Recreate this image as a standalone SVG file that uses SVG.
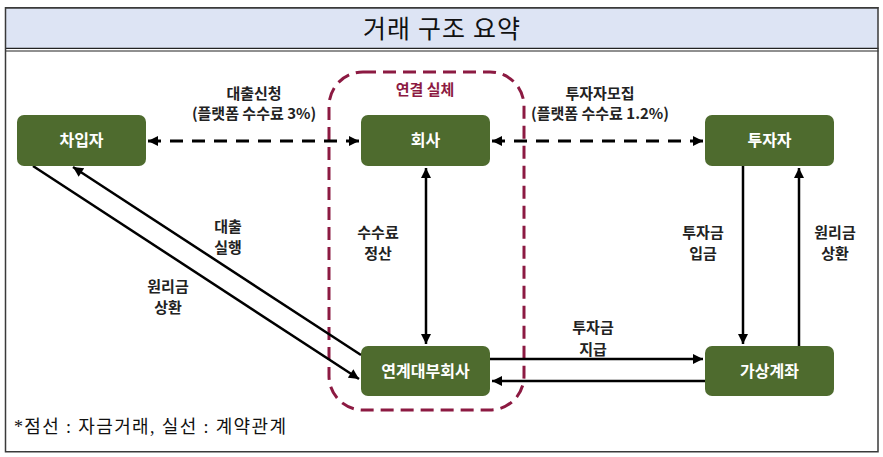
<svg xmlns="http://www.w3.org/2000/svg" width="883" height="457" viewBox="0 0 883 457">
<defs>
<style>
.node rect{fill:#4e6b2e}
.node text{fill:#ffffff;font-family:"Noto Sans CJK KR","Noto Sans",sans-serif;font-weight:700;font-size:16px;text-anchor:middle}
.lbl{fill:#222222;font-family:"Noto Sans CJK KR","Noto Sans",sans-serif;font-weight:700;font-size:15px;text-anchor:middle}
.solid{stroke:#000;stroke-width:2.5;fill:none}
.dash{stroke:#000;stroke-width:3;fill:none;stroke-dasharray:13 9}
</style>
<marker id="ah" viewBox="0 0 10 10" refX="10" refY="5" markerWidth="11" markerHeight="10" markerUnits="userSpaceOnUse" orient="auto-start-reverse">
<path d="M0,0 L10,5 L0,10 z" fill="#000"/>
</marker>
</defs>
<rect x="0" y="0" width="883" height="457" fill="#ffffff"/>
<!-- frame -->
<rect x="5.5" y="8" width="872.5" height="40" fill="#dde4f4"/>
<line x1="5" y1="7.75" x2="878.5" y2="7.75" stroke="#3a3a3a" stroke-width="1.5"/>
<line x1="5" y1="48.3" x2="878.5" y2="48.3" stroke="#222" stroke-width="1.2"/>
<line x1="5" y1="51" x2="878.5" y2="51" stroke="#222" stroke-width="1.2"/>
<rect x="5.5" y="7.75" width="872.5" height="444" fill="none" stroke="#3a3a3a" stroke-width="1.5"/>
<text x="441.5" y="38" font-family="'Liberation Serif','Noto Sans CJK KR',serif" font-size="25" text-anchor="middle" fill="#111" textLength="157" lengthAdjust="spacing">거래 구조 요약</text>
<!-- group boundary -->
<rect x="329" y="72" width="195" height="338" rx="34" ry="34" fill="none" stroke="#8c1a42" stroke-width="3" stroke-dasharray="13 7"/>
<text x="425" y="95" font-family="'Noto Sans CJK KR',sans-serif" font-weight="700" font-size="15" text-anchor="middle" fill="#8c1a42">연결 실체</text>
<!-- connectors -->
<g id="connectors">
<line class="dash" x1="148" y1="141" x2="359" y2="141" marker-start="url(#ah)" marker-end="url(#ah)"/>
<line class="dash" x1="492" y1="141" x2="703" y2="141" marker-start="url(#ah)" marker-end="url(#ah)"/>
<line class="solid" x1="426" y1="168" x2="426" y2="344" marker-start="url(#ah)" marker-end="url(#ah)"/>
<line class="solid" x1="743" y1="166" x2="743" y2="344" marker-end="url(#ah)"/>
<line class="solid" x1="799" y1="346" x2="799" y2="168" marker-end="url(#ah)"/>
<line class="solid" x1="490" y1="359" x2="703" y2="359" marker-end="url(#ah)"/>
<line class="solid" x1="705" y1="381" x2="492" y2="381" marker-end="url(#ah)"/>
<line class="solid" x1="33" y1="166" x2="359" y2="379" marker-end="url(#ah)"/>
<line class="solid" x1="361" y1="355" x2="73" y2="167" marker-end="url(#ah)"/>
</g>
<!-- labels -->
<text class="lbl" x="254" y="99">대출신청</text>
<text class="lbl" x="254" y="119">(플랫폼 수수료 3%)</text>
<text class="lbl" x="600" y="99">투자자모집</text>
<text class="lbl" x="600" y="119">(플랫폼 수수료 1.2%)</text>
<text class="lbl" x="228" y="232">대출</text>
<text class="lbl" x="228" y="253">실행</text>
<text class="lbl" x="168" y="292">원리금</text>
<text class="lbl" x="168" y="313">상환</text>
<text class="lbl" x="378" y="238">수수료</text>
<text class="lbl" x="378" y="259">정산</text>
<text class="lbl" x="703" y="238">투자금</text>
<text class="lbl" x="703" y="259">입금</text>
<text class="lbl" x="835" y="238">원리금</text>
<text class="lbl" x="835" y="259">상환</text>
<text class="lbl" x="593" y="333">투자금</text>
<text class="lbl" x="593" y="355">지급</text>
<!-- nodes -->
<g id="borrower" class="node"><rect x="17" y="115" width="129" height="51" rx="7"/><text x="81.5" y="146">차입자</text></g>
<g id="company" class="node"><rect x="361" y="115" width="129" height="51" rx="7"/><text x="425.5" y="146">회사</text></g>
<g id="investor" class="node"><rect x="705" y="115" width="129" height="51" rx="7"/><text x="769.5" y="146">투자자</text></g>
<g id="lender" class="node"><rect x="361" y="346" width="129" height="50" rx="7"/><text x="425.5" y="377">연계대부회사</text></g>
<g id="account" class="node"><rect x="705" y="346" width="129" height="50" rx="7"/><text x="769.5" y="377">가상계좌</text></g>
<text x="14" y="433" font-family="'Liberation Serif','Noto Sans CJK KR',serif" font-size="18" fill="#111" textLength="272" lengthAdjust="spacing">*점선 : 자금거래, 실선 : 계약관계</text>
</svg>
